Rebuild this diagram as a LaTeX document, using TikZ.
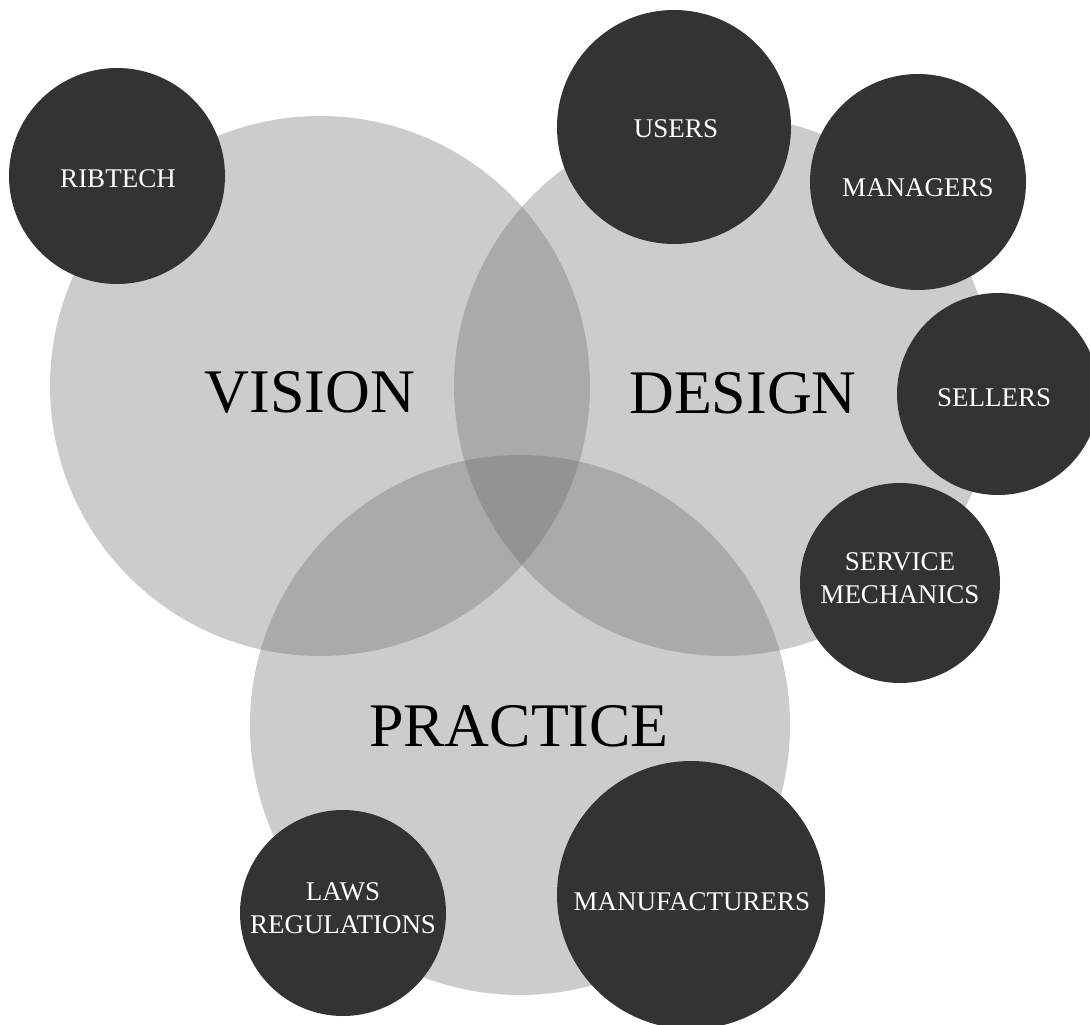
\documentclass[tikz,border=0pt]{standalone}
\usepackage{fontspec}
\setmainfont{Liberation Serif}
\definecolor{vennfill}{RGB}{102,102,102}
\definecolor{disc}{RGB}{51,51,51}
\begin{document}
\begin{tikzpicture}[x=1pt,y=-1pt,
  venn/.style={circle,inner sep=0pt,outer sep=0pt,draw=none,fill=vennfill,fill opacity=0.3333,minimum size=540pt},
  disc/.style={circle,inner sep=0pt,outer sep=0pt,draw=none,fill=disc},
  biglabel/.style={inner sep=0pt,text=black,font=\fontsize{62}{70}\selectfont},
  smalllabel/.style={inner sep=0pt,text=white,align=center,font=\fontsize{27}{33}\selectfont}]
  \useasboundingbox (0,0) rectangle (1090,1025);

  % three overlapping translucent circles
  \node[venn] (vision)   at (320,386) {};
  \node[venn] (design)   at (724,386) {};
  \node[venn] (practice) at (520,725) {};

  % stakeholder discs
  \node[disc,minimum size=216pt] (ribtech)  at (117,176) {};
  \node[disc,minimum size=234pt] (users)    at (674,127) {};
  \node[disc,minimum size=216pt] (managers) at (918,182) {};
  \node[disc,minimum size=202pt] (sellers)  at (998,394) {};
  \node[disc,minimum size=200pt] (service)  at (900,583) {};
  \node[disc,minimum size=206pt] (laws)     at (343,913) {};
  \node[disc,minimum size=268pt] (manuf)    at (691,895) {};

  % circle titles
  \node[biglabel] (visiontxt)   at (310,392) {VISION};
  \node[biglabel] (designtxt)   at (743,393) {DESIGN};
  \node[biglabel] (practicetxt) at (519,726) {PRACTICE};

  % disc labels
  \node[smalllabel] (ribtechtxt)  at ([shift={(1,3)}]ribtech.center)   {RIBTECH};
  \node[smalllabel] (userstxt)    at ([shift={(2,2)}]users.center)     {USERS};
  \node[smalllabel] (managerstxt) at ([shift={(0,6)}]managers.center)  {MANAGERS};
  \node[smalllabel] (sellerstxt)  at ([shift={(-4,4)}]sellers.center)  {SELLERS};
  \node[smalllabel] (servicetxt)  at ([shift={(0,-4.5)}]service.center) {SERVICE\\MECHANICS};
  \node[smalllabel] (lawstxt)     at ([shift={(0,-4.5)}]laws.center)    {LAWS\\REGULATIONS};
  \node[smalllabel] (manuftxt)    at ([shift={(1,7)}]manuf.center)     {MANUFACTURERS};
\end{tikzpicture}
\end{document}
